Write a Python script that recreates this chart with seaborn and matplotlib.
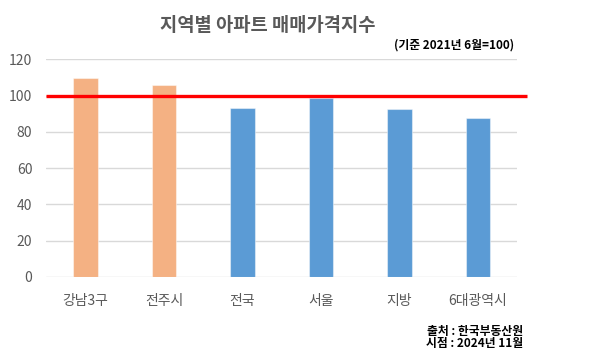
import matplotlib
matplotlib.use("Agg")
import matplotlib.pyplot as plt
import seaborn as sns
import pandas as pd

# ── Data ──────────────────────────────────────────────────────────────────────
regions = ["강남3구", "전주시", "전국", "서울", "지방", "6대광역시"]
index_values = [109.7, 106.0, 93.3, 98.7, 92.6, 87.9]
groups = ["강조", "강조", "기타", "기타", "기타", "기타"]
yticks = [0, 20, 40, 60, 80, 100, 120]
base_value = 100

palette = {"강조": "#F4B183", "기타": "#5B9BD5"}

df = pd.DataFrame({"region": regions, "value": index_values, "group": groups})

sns.set_theme(style="white")
plt.rcParams["font.family"] = ["Noto Sans CJK KR", "DejaVu Sans"]

fig = plt.figure(figsize=(6, 3.6), dpi=100)
ax = fig.add_axes([0.077, 0.231, 0.785, 0.604])

sns.barplot(data=df, x="region", y="value", hue="group", palette=palette,
            width=0.31, dodge=False, legend=False, saturation=1,
            edgecolor=(1, 1, 1, 0.45), linewidth=0.8, ax=ax, zorder=2)

# base line (2021.6 = 100), slightly overhangs the plot area
ax.plot([-0.5, 5.62], [base_value, base_value], color="#FF0000", lw=2.4,
        clip_on=False, zorder=3, solid_capstyle="butt")

ax.set_ylim(0, 120)
ax.set_xlim(-0.5, 5.5)
ax.set_yticks(yticks)
ax.yaxis.grid(True, color="#D9D9D9", lw=1)
ax.set_axisbelow(True)
for s in ax.spines.values():
    s.set_visible(False)
ax.tick_params(axis="both", length=0, labelsize=10, colors="#595959")
ax.tick_params(axis="x", pad=12)
ax.tick_params(axis="y", pad=10)
ax.set_xlabel("")
ax.set_ylabel("")

fig.text(0.447, 0.928, "지역별 아파트 매매가격지수", ha="center", va="center",
         fontsize=13.5, fontweight="bold", color="#595959")
fig.text(0.857, 0.875, "(기준 2021년 6월=100)", ha="right", va="center",
         fontsize=8.5, fontweight="bold", color="black")
fig.text(0.872, 0.078, "출처 : 한국부동산원", ha="right", va="center",
         fontsize=8.5, fontweight="bold", color="black")
fig.text(0.872, 0.045, "시점 : 2024년 11월", ha="right", va="center",
         fontsize=8.5, fontweight="bold", color="black")

fig.savefig("out.png", dpi=100)
